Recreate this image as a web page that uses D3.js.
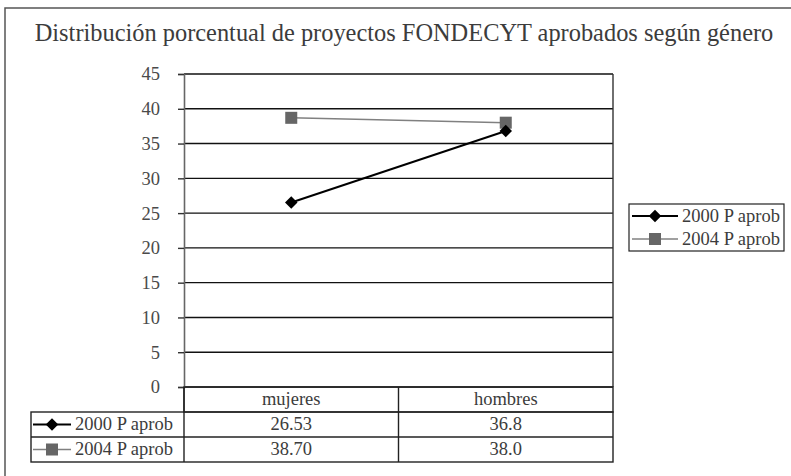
<!DOCTYPE html>
<html>
<head>
<meta charset="utf-8">
<script src="https://cdn.jsdelivr.net/npm/d3@7"></script>
<style>
  body { margin: 0; background: #fff; }
</style>
</head>
<body>
<div id="field"></div>
<script>
'use strict';

// datos del gráfico
const title = 'Distribución porcentual de proyectos FONDECYT aprobados según género';
const categories = ['mujeres', 'hombres'];
const seriesNames = ['2000 P aprob', '2004 P aprob'];
const values2000 = [26.53, 36.8];
const values2004 = [38.70, 38.0];
const labels2000 = ['26.53', '36.8'];
const labels2004 = ['38.70', '38.0'];
const yTicks = [0, 5, 10, 15, 20, 25, 30, 35, 40, 45];

const w = 791, h = 476;
const font = "'Liberation Serif', 'Times New Roman', 'DejaVu Serif', serif";
const textColor = '#3c3c3c';
const svg = d3.select('#field').append('svg').attr('width', w).attr('height', h)
  .attr('font-family', font);

// marco exterior
svg.append('rect')
  .attr('x', 5).attr('y', 8).attr('width', 800).attr('height', 480)
  .attr('fill', 'none').attr('stroke', '#555').attr('stroke-width', 1.5);

svg.append('text')
  .attr('x', 404).attr('y', 41)
  .attr('text-anchor', 'middle')
  .attr('font-size', '24.4px').attr('fill', textColor)
  .text(title);

const pLeft = 184, pRight = 613, pTop = 74, pBottom = 387;
const xScale = d3.scaleBand().domain(categories).range([pLeft, pRight]);
const yScale = d3.scaleLinear().domain([0, 45]).range([pBottom, pTop]);

// líneas de grilla
svg.selectAll('line.grid').data(yTicks).enter().append('line')
  .attr('class', 'grid')
  .attr('x1', pLeft).attr('x2', pRight)
  .attr('y1', d => yScale(d)).attr('y2', d => yScale(d))
  .attr('stroke', '#111').attr('stroke-width', 1.4);

// eje y
const yAxis = svg.append('g')
  .attr('transform', 'translate(' + pLeft + ',0)')
  .call(d3.axisLeft(yScale).tickValues(yTicks).tickSize(6).tickPadding(18));
yAxis.attr('font-family', font).attr('font-size', 18.5);
yAxis.select('.domain').attr('stroke', '#666').attr('stroke-width', 1.6);
yAxis.selectAll('.tick line').attr('stroke', '#333').attr('stroke-width', 1.4);
yAxis.selectAll('.tick text').attr('fill', '#4a4a4a');

// borde derecho del área
svg.append('line')
  .attr('x1', pRight).attr('x2', pRight).attr('y1', pTop).attr('y2', pBottom)
  .attr('stroke', '#333').attr('stroke-width', 1.4);

const series = [
  { name: seriesNames[0], values: values2000, labels: labels2000, color: '#000', marker: 'diamond' },
  { name: seriesNames[1], values: values2004, labels: labels2004, color: '#808080', marker: 'square' }
];

function drawMarker(g, type, x, y) {
  if (type === 'diamond') {
    g.append('path')
      .attr('d', d3.symbol().type(d3.symbolDiamond2).size(100)())
      .attr('transform', 'translate(' + x + ',' + y + ')')
      .attr('fill', '#000');
  } else {
    g.append('rect')
      .attr('x', x - 6).attr('y', y - 6).attr('width', 12).attr('height', 12)
      .attr('fill', '#666');
  }
}

const cx = d => xScale(d) + xScale.bandwidth() / 2;

// series (2004 primero para que 2000 quede encima)
series.slice().reverse().forEach(function(s) {
  const pts = categories.map((c, i) => [cx(c), yScale(s.values[i])]);
  svg.append('path')
    .attr('d', d3.line()(pts))
    .attr('fill', 'none').attr('stroke', s.color).attr('stroke-width', s.marker === 'diamond' ? 2 : 1.6);
  const g = svg.append('g');
  pts.forEach(p => drawMarker(g, s.marker, p[0], p[1]));
});

// muestra de leyenda
function legendKey(g, s, x, y, len) {
  g.append('line')
    .attr('x1', x).attr('x2', x + len).attr('y1', y).attr('y2', y)
    .attr('stroke', s.color).attr('stroke-width', s.marker === 'diamond' ? 2 : 1.6);
  drawMarker(g, s.marker, x + len / 2, y);
}

// tabla de datos
const tbl = svg.append('g').attr('font-size', 18.5).attr('fill', textColor);
const rowH = 25, tblLeft = 31;
const rowY = i => pBottom + rowH * (i + 1);
tbl.append('rect')
  .attr('x', pLeft).attr('y', pBottom).attr('width', pRight - pLeft).attr('height', rowH)
  .attr('fill', 'none').attr('stroke', '#222').attr('stroke-width', 1.4);
tbl.append('rect')
  .attr('x', tblLeft).attr('y', rowY(0)).attr('width', pRight - tblLeft).attr('height', rowH * 2)
  .attr('fill', 'none').attr('stroke', '#222').attr('stroke-width', 1.4);
tbl.append('line')
  .attr('x1', tblLeft).attr('x2', pRight).attr('y1', rowY(1)).attr('y2', rowY(1))
  .attr('stroke', '#222').attr('stroke-width', 1.4);
[pLeft, xScale(categories[1])].forEach(function(x) {
  tbl.append('line')
    .attr('x1', x).attr('x2', x).attr('y1', pBottom).attr('y2', rowY(2))
    .attr('stroke', '#222').attr('stroke-width', 1.4);
});
tbl.selectAll('text.cat').data(categories).enter().append('text')
  .attr('class', 'cat')
  .attr('x', d => cx(d)).attr('y', pBottom + 18)
  .attr('text-anchor', 'middle')
  .text(d => d);
series.forEach(function(s, si) {
  const y0 = rowY(si);
  legendKey(tbl, s, tblLeft + 2, y0 + rowH / 2, 38);
  tbl.append('text')
    .attr('x', tblLeft + 44).attr('y', y0 + 18)
    .text(s.name);
  tbl.selectAll(null).data(categories).enter().append('text')
    .attr('x', d => cx(d)).attr('y', y0 + 18)
    .attr('text-anchor', 'middle')
    .text((d, i) => s.labels[i]);
});

// leyenda
const leg = svg.append('g').attr('font-size', 18.5).attr('fill', textColor);
leg.append('rect')
  .attr('x', 629).attr('y', 204).attr('width', 155).attr('height', 47)
  .attr('fill', '#fff').attr('stroke', '#222').attr('stroke-width', 1.2);
series.forEach(function(s, i) {
  const y = 216 + i * 23;
  legendKey(leg, s, 632, y, 46);
  leg.append('text')
    .attr('x', 682).attr('y', y + 6)
    .text(s.name);
});
</script>
</body>
</html>
